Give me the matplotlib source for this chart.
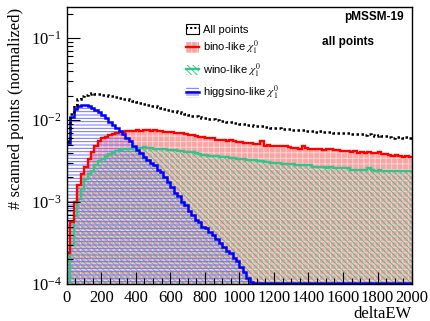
import numpy as np
import matplotlib.pyplot as plt
from matplotlib.patches import Patch
from matplotlib.lines import Line2D
from matplotlib.ticker import MultipleLocator

plt.rcParams['font.family'] = ['Liberation Serif', 'DejaVu Serif']
plt.rcParams['mathtext.fontset'] = 'stix'
plt.rcParams['hatch.linewidth'] = 0.7

# deltaEW binning: 100 bins of width 20 from 0 to 2000
edges = np.arange(0, 2001, 20)

# normalized fractions per bin, in units of 1e-3
all_points = [
    5.5, 12.0, 15.5, 18.0, 19.5, 20.3, 21.0, 21.2, 21.0, 20.8,
    20.5, 20.3, 20.0, 19.6, 19.2, 18.8, 18.3, 17.9, 17.4, 17.0,
    16.6, 16.2, 15.9, 15.5, 15.1, 14.9, 14.4, 14.1, 13.7, 13.4,
    13.1, 12.8, 12.5, 12.2, 11.9, 11.6, 11.4, 11.1, 10.9, 10.7,
    10.5, 10.3, 10.2, 10.0, 9.9, 9.7, 9.6, 9.5, 9.3, 9.2,
    9.0, 8.9, 8.8, 8.7, 8.6, 8.5, 8.6, 8.3, 8.2, 8.1,
    8.0, 8.0, 7.9, 7.8, 7.8, 7.6, 7.6, 7.5, 7.6, 7.4,
    7.4, 7.3, 7.2, 7.3, 7.1, 7.2, 7.1, 7.0, 7.0, 6.9,
    6.9, 6.9, 6.8, 6.8, 6.7, 6.7, 6.6, 6.8, 6.6, 6.5,
    6.6, 6.4, 6.4, 6.3, 6.1, 6.3, 6.2, 6.1, 6.2, 6.1,
]
bino = [
    0.24, 0.58, 1.0, 1.6, 2.2, 2.7, 3.4, 4.1, 4.8, 5.5,
    6.0, 6.3, 6.6, 6.8, 6.9, 7.1, 7.2, 7.3, 7.3, 7.4,
    7.5, 7.4, 7.6, 7.5, 7.4, 7.5, 7.3, 7.4, 7.2, 7.2,
    7.1, 7.0, 6.9, 6.9, 6.7, 6.6, 6.6, 6.5, 6.3, 6.2,
    6.1, 6.0, 6.0, 5.8, 5.8, 5.7, 5.6, 5.7, 5.5, 5.4,
    5.4, 5.3, 5.3, 5.2, 5.1, 5.1, 5.5, 4.9, 5.0, 4.9,
    4.8, 4.8, 4.9, 4.8, 4.7, 4.6, 4.6, 4.5, 4.8, 4.6,
    4.5, 4.4, 4.4, 4.5, 4.3, 4.4, 4.4, 4.3, 4.3, 4.2,
    4.2, 4.2, 4.1, 4.2, 4.0, 4.1, 4.0, 4.1, 4.0, 4.0,
    4.1, 3.9, 3.9, 3.8, 3.7, 3.8, 3.7, 3.6, 3.7, 3.6,
]
wino = [
    0.105, 0.30, 0.67, 1.09, 1.45, 1.9, 2.2, 2.4, 2.8, 3.2,
    3.4, 3.7, 3.9, 4.0, 4.2, 4.3, 4.4, 4.5, 4.5, 4.6,
    4.6, 4.6, 4.7, 4.6, 4.6, 4.5, 4.5, 4.4, 4.4, 4.3,
    4.3, 4.3, 4.2, 4.2, 4.1, 4.1, 4.1, 4.0, 3.9, 3.8,
    3.8, 3.7, 3.7, 3.7, 3.6, 3.6, 3.6, 3.5, 3.5, 3.4,
    3.4, 3.4, 3.3, 3.3, 3.3, 3.2, 3.2, 3.1, 3.1, 3.0,
    3.0, 3.0, 2.9, 2.9, 2.9, 2.9, 2.8, 2.8, 2.8, 2.8,
    2.8, 2.7, 2.7, 2.7, 2.7, 2.6, 2.7, 2.6, 2.6, 2.6,
    2.6, 2.6, 2.5, 2.5, 2.5, 2.5, 2.5, 2.6, 2.5, 2.4,
    2.5, 2.4, 2.4, 2.4, 2.4, 2.4, 2.4, 2.4, 2.4, 2.4,
]
higgsino = [
    5.2, 11.0, 13.5, 15.0, 15.5, 15.5, 15.0, 14.0, 13.3, 12.5,
    11.5, 10.5, 9.6, 8.8, 8.0, 7.3, 6.7, 6.0, 5.5, 4.9,
    4.3, 4.0, 3.6, 3.3, 3.0, 2.8, 2.5, 2.3, 2.0, 1.75,
    1.55, 1.3, 1.2, 1.0, 0.92, 0.78, 0.70, 0.60, 0.57, 0.50,
    0.48, 0.43, 0.40, 0.35, 0.32, 0.28, 0.25, 0.24, 0.21, 0.19,
    0.16, 0.14, 0.12, 0.105, 0, 0, 0, 0, 0, 0,
    0, 0, 0, 0, 0, 0, 0, 0, 0, 0,
    0, 0, 0, 0, 0, 0, 0, 0, 0, 0,
    0, 0, 0, 0, 0, 0, 0, 0, 0, 0,
    0, 0, 0, 0, 0, 0, 0, 0, 0, 0,
]

all_points = np.array(all_points) * 1e-3
bino = np.array(bino) * 1e-3
wino = np.array(wino) * 1e-3
higgsino = np.array(higgsino) * 1e-3

ymin, ymax = 1e-4, 0.24

red_fill = dict(facecolor='#f6a4a4', edgecolor='#fbd4d4', hatch='+++')
green_fill = dict(facecolor='none', edgecolor='#3cc890', hatch='\\\\\\\\\\\\')
blue_fill = dict(facecolor='none', edgecolor='#7070ff', hatch='-----')

fig = plt.figure(figsize=(4.31, 3.21), dpi=100)
ax = fig.add_axes([0.155, 0.115, 0.801, 0.863])
ax.set_yscale('log')

# filled areas
ax.stairs(bino, edges, baseline=1e-6, fill=True, linewidth=0, **red_fill)
ax.stairs(wino, edges, baseline=1e-6, fill=True, linewidth=0, **green_fill)
ax.stairs(np.where(higgsino > 0, higgsino, 1e-6), edges, baseline=1e-6,
          fill=True, linewidth=0, **blue_fill)

# outlines
ax.stairs(wino, edges, baseline=None, color='#33c48c', linewidth=1.7)
ax.stairs(bino, edges, baseline=None, color='#ff0000', linewidth=1.7)
ax.stairs(np.maximum(higgsino, 1.03e-4), edges, baseline=None,
          color='#0000ff', linewidth=1.8)
ax.stairs(all_points, edges, baseline=None, color='black',
          linewidth=1.8, linestyle=(0, (1, 1)))

ax.set_xlim(0, 2000)
ax.set_ylim(ymin, ymax)
ax.xaxis.set_major_locator(MultipleLocator(200))
ax.xaxis.set_minor_locator(MultipleLocator(50))
ax.tick_params(which='both', direction='in', top=False, right=False,
               labelsize=12, width=0.8)
ax.tick_params(which='major', length=9)
ax.tick_params(which='minor', length=4.5)
ax.tick_params(axis='x', pad=4)
for s in ax.spines.values():
    s.set_linewidth(1.0)

fig.text(16 / 431, 1 - 8 / 321, '# scanned points (normalized)', rotation=90,
         ha='center', va='top', fontsize=12)
fig.text(412 / 431, 1 - 318 / 321, 'deltaEW', ha='right', va='baseline',
         fontsize=12)

sans = {'family': ['Liberation Sans', 'DejaVu Sans'], 'size': 8}
handles = [
    (Patch(facecolor='white', edgecolor='black', linewidth=0.8),
     Line2D([], [], color='black', linewidth=1.5, linestyle=(0, (1, 1)))),
    (Patch(linewidth=0, **red_fill), Line2D([], [], color='#ff0000', linewidth=1.7)),
    (Patch(linewidth=0, **green_fill), Line2D([], [], color='#33c48c', linewidth=1.7)),
    (Patch(linewidth=0, **blue_fill), Line2D([], [], color='#0000ff', linewidth=1.8)),
]
labels = ['All points', r'bino-like $\chi^{0}_{1}$', r'wino-like $\chi^{0}_{1}$',
          r'higgsino-like $\chi^{0}_{1}$']
ax.legend(handles, labels, loc='upper left', bbox_to_anchor=(0.345, 0.94),
          frameon=False, prop=sans, handlelength=1.2, handleheight=1.1,
          handletextpad=0.3, labelspacing=0.4, borderpad=0, borderaxespad=0)

fig.text(404 / 431, 1 - 17 / 321, 'pMSSM-19', ha='right', va='center',
         fontsize=8.5, fontweight='bold', family=['Liberation Sans', 'DejaVu Sans'])
fig.text(322 / 431, 1 - 42 / 321, 'all points', ha='left', va='center',
         fontsize=8.5, fontweight='bold', family=['Liberation Sans', 'DejaVu Sans'])

fig.savefig('out.png', dpi=100)
